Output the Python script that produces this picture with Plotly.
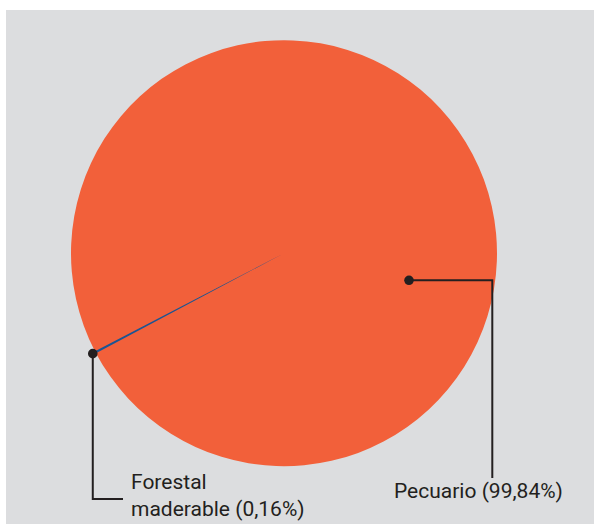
import math
import plotly.graph_objects as go

# Superficie por uso del suelo
categorias = ["Forestal maderable", "Pecuario"]
porcentajes = [0.16, 99.84]
etiquetas = ["Forestal<br>maderable (0,16%)", "Pecuario (99,84%)"]
colores = ["#1b5593", "#f2603a"]

W, H = 594, 524
FONDO = "#dcdddf"
TINTA = "#231f20"
FUENTE = dict(family="Roboto, Open Sans, sans-serif", size=21, color=TINTA)

# pie geometry in pixels (centre and radius)
cx, cy, r = 284.0, 253.2, 213.0
rotacion = 242.0  # start of the first slice, clockwise from 12 o'clock


def px(x):
    return x / W


def py(y):
    return 1 - y / H


fig = go.Figure(go.Pie(
    labels=categorias,
    values=porcentajes,
    marker=dict(colors=colores, line=dict(color=colores, width=[2, 0])),
    sort=False,
    direction="clockwise",
    rotation=rotacion,
    textinfo="none",
    hoverinfo="label+percent",
    domain=dict(x=[px(cx - r), px(cx + r)], y=[py(cy + r), py(cy - r)]),
    showlegend=False,
))

# point just outside the rim, in the middle of the small slice
total = sum(porcentajes)
ang = math.radians(rotacion + 360 * porcentajes[0] / total / 2)
fx = cx + (r + 3) * math.sin(ang)
fy = cy - (r + 3) * math.cos(ang)

# anchor point inside the large slice
ex, ey = 409.0, 280.3

linea = dict(color=TINTA, width=2)
shapes = [
    dict(type="rect", xref="paper", yref="paper", layer="below",
         x0=px(6), x1=1, y0=0, y1=py(10), fillcolor=FONDO, line=dict(width=0)),
    # Forestal leader
    dict(type="path", xref="paper", yref="paper", layer="above", line=linea,
         path=f"M {px(fx)},{py(fy)} L {px(fx)},{py(499)} L {px(123)},{py(499)}"),
    dict(type="circle", xref="paper", yref="paper", layer="above",
         x0=px(fx - 4.8), x1=px(fx + 4.8), y0=py(fy + 4.8), y1=py(fy - 4.8),
         fillcolor=TINTA, line=dict(width=0)),
    # Pecuario leader
    dict(type="path", xref="paper", yref="paper", layer="above", line=linea,
         path=f"M {px(ex)},{py(ey)} L {px(492.3)},{py(ey)} L {px(492.3)},{py(478)}"),
    dict(type="circle", xref="paper", yref="paper", layer="above",
         x0=px(ex - 4.8), x1=px(ex + 4.8), y0=py(ey + 4.8), y1=py(ey - 4.8),
         fillcolor=TINTA, line=dict(width=0)),
]

annotations = [
    dict(text=etiquetas[0], x=px(129), y=py(468), xref="paper", yref="paper",
         xanchor="left", yanchor="top", align="left", showarrow=False, font=FUENTE),
    dict(text=etiquetas[1], x=px(392), y=py(477), xref="paper", yref="paper",
         xanchor="left", yanchor="top", showarrow=False, font=FUENTE),
]

fig.update_layout(
    width=W, height=H,
    margin=dict(l=0, r=0, t=0, b=0),
    paper_bgcolor="white",
    plot_bgcolor="white",
    shapes=shapes,
    annotations=annotations,
)

fig.write_html("out.html")
